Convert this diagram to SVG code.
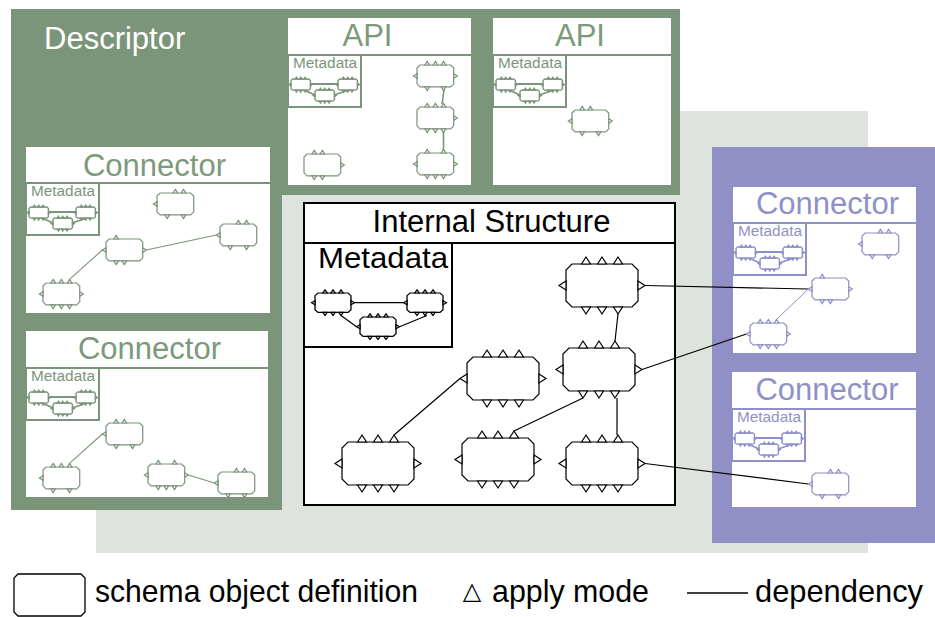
<svg xmlns="http://www.w3.org/2000/svg" xmlns:xlink="http://www.w3.org/1999/xlink" width="935" height="617" viewBox="0 0 935 617">
<style>
text{font-family:"Liberation Sans",Arial,sans-serif}
.box{fill:#fff}
.gtx{fill:#7d997c}
.ptx{fill:#9090c8}
.nb{fill:#fff;stroke:#000;stroke-width:1.2}
.nbm{fill:#fff;stroke:#000;stroke-width:2.6}
.ng{fill:#fff;stroke:#7b957a;stroke-width:2.4}
.np{fill:#fff;stroke:#9090c8;stroke-width:2.4}
.sep-g{stroke:#7b957a;stroke-width:2}
.sep-p{stroke:#9090c8;stroke-width:2}
.dep{stroke:#000;stroke-width:1.2;fill:none}
</style>
<defs>
<path id="body" d="M6,0H66L72,6V37L66,43H6L0,37V6Z"/>
<path id="t0" d="M15.5,0L20,-7L24.5,0Z"/>
<path id="t1" d="M31.5,0L36,-7L40.5,0Z"/>
<path id="t2" d="M47.5,0L52,-7L56.5,0Z"/>
<path id="b0" d="M15.5,43L20,50L24.5,43Z"/>
<path id="b1" d="M31.5,43L36,50L40.5,43Z"/>
<path id="b2" d="M47.5,43L52,50L56.5,43Z"/>
<path id="l" d="M0,17L-7,21.5L0,26Z"/>
<path id="r" d="M72,17L79,21.5L72,26Z"/>
<g id="full"><use href="#body"/><use href="#t0"/><use href="#t1"/><use href="#t2"/><use href="#b0"/><use href="#b1"/><use href="#b2"/><use href="#l"/><use href="#r"/></g>
<symbol id="md" overflow="visible">
<rect x="0" y="0" width="73" height="52" fill="#fff" stroke="currentColor" stroke-width="2"/>
<text x="5" y="13" font-size="14" textLength="64" lengthAdjust="spacingAndGlyphs" fill="currentColor">Metadata</text>
<path d="M22,29H50M16,35L27,40M46,40L61,35" stroke="currentColor" stroke-width="1.8" fill="none"/>
<g fill="#fff" stroke="currentColor" stroke-width="5">
<use href="#full" transform="translate(3,24) scale(0.27,0.26)"/>
<use href="#full" transform="translate(50,24) scale(0.27,0.26)"/>
<use href="#full" transform="translate(27,35) scale(0.27,0.26)"/>
</g>
</symbol>
</defs>

<g id="backgrounds">
<rect x="96" y="111" width="772" height="442" fill="#dee3de"/>
<path d="M11,9H680V195H282V510H11Z" fill="#7b957a"/>
<rect x="712" y="147" width="223" height="396" fill="#908fc6"/>
<text x="44" y="49" font-size="31" fill="#fff">Descriptor</text>
</g>

<g id="api1">
<rect class="box" x="288" y="18" width="183" height="167"/>
<line class="sep-g" x1="288" y1="55" x2="471" y2="55"/>
<text class="gtx" x="367.5" y="46" font-size="31" text-anchor="middle">API</text>
<use href="#md" x="288" y="55" color="#7b957a"/>
</g>
<g id="api2">
<rect class="box" x="493" y="18" width="178" height="167"/>
<line class="sep-g" x1="493" y1="55" x2="671" y2="55"/>
<text class="gtx" x="580" y="46" font-size="31" text-anchor="middle">API</text>
<use href="#md" x="493" y="55" color="#7b957a"/>
</g>
<g id="connector-l1">
<rect class="box" x="26" y="147" width="244" height="166"/>
<line class="sep-g" x1="26" y1="183" x2="270" y2="183"/>
<text class="gtx" x="154.5" y="176" font-size="31" text-anchor="middle">Connector</text>
<use href="#md" x="26" y="183" color="#7b957a"/>
</g>
<g id="connector-l2">
<rect class="box" x="26" y="331" width="242" height="166"/>
<line class="sep-g" x1="26" y1="368" x2="268" y2="368"/>
<text class="gtx" x="149.5" y="359" font-size="31" text-anchor="middle">Connector</text>
<use href="#md" x="26" y="368" color="#7b957a"/>
</g>
<g id="connector-p1">
<rect class="box" x="733" y="187" width="183" height="166"/>
<line class="sep-p" x1="733" y1="223" x2="916" y2="223"/>
<text class="ptx" x="827.5" y="214" font-size="31" text-anchor="middle">Connector</text>
<use href="#md" x="733" y="223" color="#9090c8"/>
</g>
<g id="connector-p2">
<rect class="box" x="732" y="372" width="184" height="135"/>
<line class="sep-p" x1="732" y1="409" x2="916" y2="409"/>
<text class="ptx" x="827" y="400" font-size="31" text-anchor="middle">Connector</text>
<use href="#md" x="732" y="409" color="#9090c8"/>
</g>
<g id="internal-structure">
<rect x="304" y="203" width="371" height="302" fill="#fff" stroke="#000" stroke-width="2"/>
<line x1="304" y1="243" x2="675" y2="243" stroke="#000" stroke-width="2"/>
<text x="491.5" y="232" font-size="31" text-anchor="middle" fill="#000">Internal Structure</text>
<rect x="304" y="243" width="148" height="104" fill="#fff" stroke="#000" stroke-width="2"/>
<text x="318" y="268" font-size="30" textLength="130" lengthAdjust="spacingAndGlyphs" fill="#000">Metadata</text>
</g>

<g id="connectors">
<path class="dep" d="M354.5,302.7H403.5M341,315.5L356.5,326.7M399.5,326.7L427,315.5" stroke-width="2"/>
<path class="dep" d="M618,314L615,341M583,398L514,431M460,378.5L394,435M617,398V435"/>
<path class="dep" d="M645,285.5L808.4,289M642,369.5L746.4,334M645,463.5L808.4,484"/>
<path d="M444,90L442,104M443.5,132V149.4" stroke="#7b957a" stroke-width="1.6" fill="none"/>
<path d="M146.3,250L216.4,235M69.5,279.4L102.4,250M69.5,463.4L102.4,434M188.3,475L214.4,483" stroke="#7b957a" stroke-width="1.1" fill="none"/>
<path d="M776.5,319.4L808.4,289" stroke="#9090c8" stroke-width="1" fill="none"/>
</g>

<g id="int-a" class="nb" transform="translate(566,264)"><use href="#full"/></g>
<g id="int-b" class="nb" transform="translate(563,348)"><use href="#full"/></g>
<g id="int-c" class="nb" transform="translate(467,357)"><use href="#full"/></g>
<g id="int-d" class="nb" transform="translate(342,442)"><use href="#full"/></g>
<g id="int-e" class="nb" transform="translate(462,438)"><use href="#full"/></g>
<g id="int-f" class="nb" transform="translate(566,442)"><use href="#full"/></g>
<g id="int-m1" class="nbm" transform="translate(315,293) scale(0.5,0.45)"><use href="#full"/></g>
<g id="int-m2" class="nbm" transform="translate(407,293) scale(0.5,0.45)"><use href="#full"/></g>
<g id="int-m3" class="nbm" transform="translate(360,317) scale(0.5,0.45)"><use href="#full"/></g>

<g id="api1-n1" class="ng" transform="translate(417,65) scale(0.51)"><use href="#body"/><use href="#t0"/><use href="#t1"/><use href="#t2"/><use href="#b0"/><use href="#b2"/><use href="#l"/><use href="#r"/></g>
<g id="api1-n2" class="ng" transform="translate(417,107) scale(0.51)"><use href="#body"/><use href="#t0"/><use href="#t1"/><use href="#t2"/><use href="#b0"/><use href="#b1"/><use href="#b2"/><use href="#r"/></g>
<g id="api1-n3" class="ng" transform="translate(417,153) scale(0.51)"><use href="#body"/><use href="#t0"/><use href="#t2"/><use href="#b0"/><use href="#b1"/><use href="#b2"/><use href="#l"/><use href="#r"/></g>
<g id="api1-n4" class="ng" transform="translate(304,154) scale(0.51)"><use href="#body"/><use href="#t0"/><use href="#t1"/><use href="#b0"/><use href="#b1"/><use href="#r"/></g>
<g id="api2-n1" class="ng" transform="translate(572,110) scale(0.51)"><use href="#body"/><use href="#t0"/><use href="#t1"/><use href="#b0"/><use href="#b2"/><use href="#l"/><use href="#r"/></g>

<g id="l1-a" class="ng" transform="translate(157,193) scale(0.51)"><use href="#body"/><use href="#t1"/><use href="#t2"/><use href="#b0"/><use href="#b2"/><use href="#l"/></g>
<g id="l1-b" class="ng" transform="translate(220,224) scale(0.51)"><use href="#body"/><use href="#t1"/><use href="#t2"/><use href="#b0"/><use href="#b2"/><use href="#l"/></g>
<g id="l1-c" class="ng" transform="translate(106,239) scale(0.51)"><use href="#body"/><use href="#t0"/><use href="#b0"/><use href="#b1"/><use href="#l"/><use href="#r"/></g>
<g id="l1-d" class="ng" transform="translate(43,283) scale(0.51)"><use href="#full"/></g>

<g id="l2-e" class="ng" transform="translate(106,423) scale(0.51)"><use href="#body"/><use href="#t0"/><use href="#t1"/><use href="#b0"/><use href="#b2"/><use href="#l"/></g>
<g id="l2-f" class="ng" transform="translate(43,467) scale(0.51)"><use href="#body"/><use href="#t0"/><use href="#t1"/><use href="#t2"/><use href="#b0"/><use href="#b2"/><use href="#l"/></g>
<g id="l2-g" class="ng" transform="translate(148,464) scale(0.51)"><use href="#body"/><use href="#t0"/><use href="#t2"/><use href="#b0"/><use href="#b1"/><use href="#b2"/><use href="#l"/><use href="#r"/></g>
<g id="l2-h" class="ng" transform="translate(218,472) scale(0.51)"><use href="#body"/><use href="#t1"/><use href="#t2"/><use href="#b0"/><use href="#b2"/><use href="#l"/></g>

<g id="p1-a" class="np" transform="translate(812,278) scale(0.51)"><use href="#body"/><use href="#t0"/><use href="#b0"/><use href="#b1"/><use href="#l"/><use href="#r"/></g>
<g id="p1-b" class="np" transform="translate(750,323) scale(0.51)"><use href="#full"/></g>
<g id="p1-c" class="np" transform="translate(862,233) scale(0.51)"><use href="#body"/><use href="#t1"/><use href="#t2"/><use href="#b0"/><use href="#b2"/><use href="#l"/></g>
<g id="p2-a" class="np" transform="translate(812,473) scale(0.51)"><use href="#body"/><use href="#t1"/><use href="#t2"/><use href="#b0"/><use href="#b2"/><use href="#l"/></g>

<g id="legend">
<path d="M18,574H81L85,578V612L81,616H18L14,612V578Z" fill="#fff" stroke="#000" stroke-width="1.3"/>
<text x="95" y="602" font-size="32" textLength="323" lengthAdjust="spacingAndGlyphs" fill="#000">schema object definition</text>
<text x="472" y="599" font-size="24" text-anchor="middle" fill="#000" style="font-family:'DejaVu Sans',sans-serif">△</text>
<text x="492" y="602" font-size="32" textLength="157" lengthAdjust="spacingAndGlyphs" fill="#000">apply mode</text>
<line x1="687" y1="593" x2="748" y2="593" stroke="#000" stroke-width="1.5"/>
<text x="755" y="602" font-size="32" textLength="168" lengthAdjust="spacingAndGlyphs" fill="#000">dependency</text>
</g>
</svg>
